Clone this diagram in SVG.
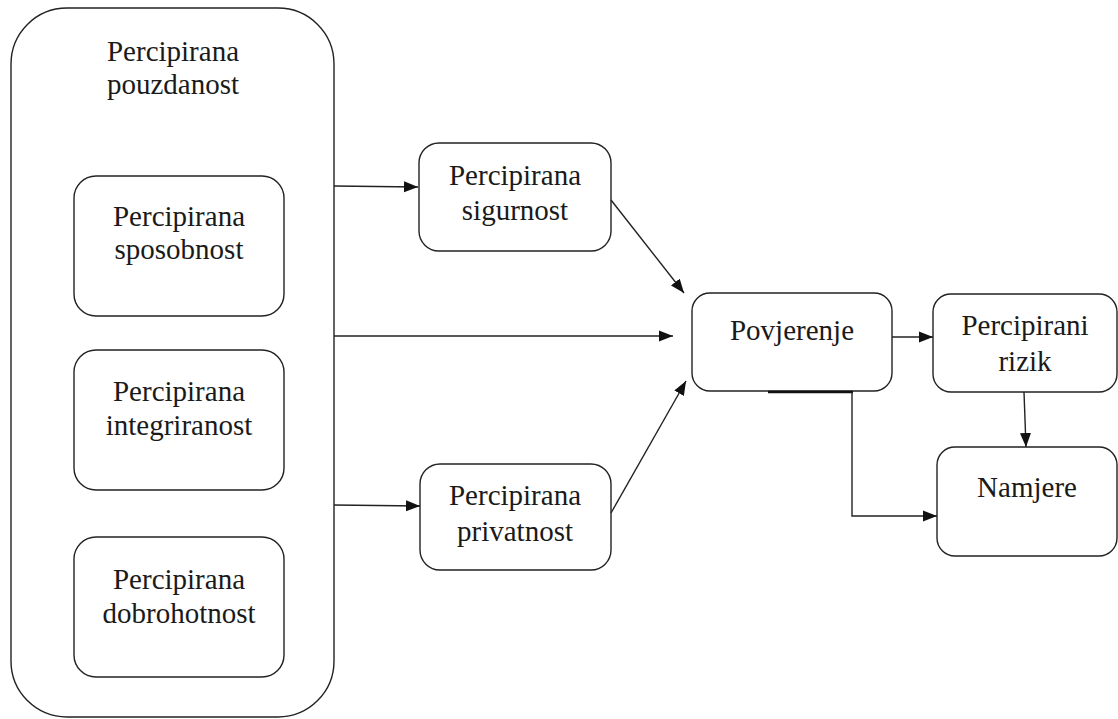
<svg xmlns="http://www.w3.org/2000/svg" width="1118" height="719" viewBox="0 0 1118 719">
<style>
.box{fill:#fff;stroke:#222;stroke-width:1.4}
.t{font-family:"Liberation Serif","Times New Roman",serif;font-size:29px;fill:#1a1a1a;text-anchor:middle}
.c{fill:none;stroke:#222;stroke-width:1.4}
</style>
<defs>
<marker id="ah" markerWidth="15" markerHeight="12" refX="14" refY="6" orient="auto" markerUnits="userSpaceOnUse">
<path d="M0,0.5 L14,6 L0,11.5 Z" fill="#111"/>
</marker>
</defs>
<rect width="1118" height="719" fill="#fff"/>
<g id="pouzdanost">
<rect class="box" x="11" y="8" width="323" height="709" rx="56"/>
<text class="t" x="173" y="61">Percipirana</text>
<text class="t" x="173" y="94">pouzdanost</text>
</g>
<g id="sposobnost">
<rect class="box" x="74" y="176" width="210" height="140" rx="22"/>
<text class="t" x="179" y="226">Percipirana</text>
<text class="t" x="179" y="259">sposobnost</text>
</g>
<g id="integriranost">
<rect class="box" x="74" y="350" width="210" height="140" rx="22"/>
<text class="t" x="179" y="401">Percipirana</text>
<text class="t" x="179" y="435">integriranost</text>
</g>
<g id="dobrohotnost">
<rect class="box" x="74" y="537" width="210" height="140" rx="22"/>
<text class="t" x="179" y="589">Percipirana</text>
<text class="t" x="179" y="623">dobrohotnost</text>
</g>
<g id="sigurnost">
<rect class="box" x="419" y="143" width="192" height="108" rx="20"/>
<text class="t" x="515" y="185">Percipirana</text>
<text class="t" x="515" y="220">sigurnost</text>
</g>
<g id="privatnost">
<rect class="box" x="420" y="464" width="191" height="106" rx="20"/>
<text class="t" x="515" y="505">Percipirana</text>
<text class="t" x="515" y="541">privatnost</text>
</g>
<g id="povjerenje">
<rect class="box" x="692" y="293" width="200" height="98" rx="18"/>
<text class="t" x="792" y="340">Povjerenje</text>
</g>
<g id="rizik">
<rect class="box" x="933" y="294" width="184" height="98" rx="18"/>
<text class="t" x="1025" y="335">Percipirani</text>
<text class="t" x="1025" y="371">rizik</text>
</g>
<g id="namjere">
<rect class="box" x="937" y="447" width="180" height="109" rx="18"/>
<text class="t" x="1027" y="497">Namjere</text>
</g>
<g id="connectors">
<line class="c" x1="334" y1="186" x2="418" y2="187" marker-end="url(#ah)"/>
<line class="c" x1="334" y1="336" x2="673" y2="336" marker-end="url(#ah)"/>
<line class="c" x1="334" y1="505" x2="420" y2="506" marker-end="url(#ah)"/>
<line class="c" x1="611" y1="200" x2="684" y2="293" marker-end="url(#ah)"/>
<line class="c" x1="611" y1="513" x2="686" y2="381" marker-end="url(#ah)"/>
<line class="c" x1="892" y1="337" x2="933" y2="337" marker-end="url(#ah)"/>
<line class="c" x1="1024" y1="392" x2="1026" y2="447" marker-end="url(#ah)"/>
<line x1="768" y1="392" x2="853" y2="392" stroke="#111" stroke-width="2.6"/>
<polyline class="c" points="852,392 852,516 937,516" marker-end="url(#ah)"/>
</g>
</svg>
